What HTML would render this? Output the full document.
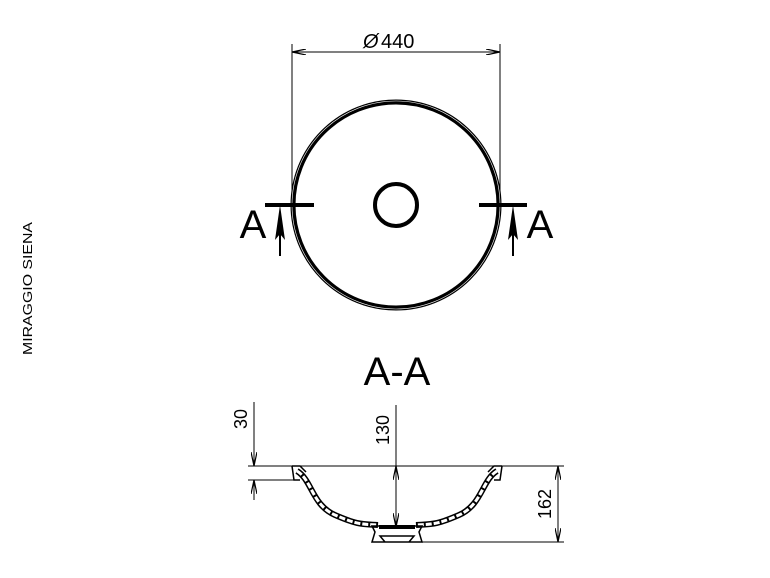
<!DOCTYPE html>
<html><head><style>body{margin:0;background:#fff}svg{display:block}</style></head><body>
<svg width="770" height="578" viewBox="0 0 770 578" xmlns="http://www.w3.org/2000/svg" font-family="Liberation Sans, sans-serif">
<defs>
<marker id="ar" viewBox="0 0 14 6" refX="14" refY="3" markerWidth="14" markerHeight="6" markerUnits="userSpaceOnUse" orient="auto"><path d="M0,0 L14,3 L0,6" fill="none" stroke="#000" stroke-width="1.2"/></marker>
</defs>
<text x="0" y="0" font-size="13" textLength="133" lengthAdjust="spacingAndGlyphs" transform="translate(32 355) rotate(-90)">MIRAGGIO SIENA</text>
<g stroke="#000" stroke-width="1" fill="none">
<line x1="292" y1="44" x2="292" y2="205"/>
<line x1="500" y1="44" x2="500" y2="205"/>
<line x1="396" y1="52" x2="292" y2="52" marker-end="url(#ar)"/>
<line x1="396" y1="52" x2="500" y2="52" marker-end="url(#ar)"/>
</g>
<text x="363" y="48" font-size="20" font-style="italic">Ø</text>
<text x="381" y="48" font-size="20">440</text>
<circle cx="396" cy="205" r="103" fill="none" stroke="#000" stroke-width="5"/>
<circle cx="396" cy="205" r="104" fill="none" stroke="#fff" stroke-width="0.6"/>
<circle cx="396" cy="205" r="21" fill="none" stroke="#000" stroke-width="4"/>
<line x1="265" y1="205" x2="314" y2="205" stroke="#000" stroke-width="4"/>
<line x1="479" y1="205" x2="527" y2="205" stroke="#000" stroke-width="4"/>
<line x1="280" y1="256" x2="280" y2="225" stroke="#000" stroke-width="2"/>
<path d="M280,205 L285,240 L280,234 L275,240 Z" fill="#000"/>
<line x1="513" y1="256" x2="513" y2="225" stroke="#000" stroke-width="2"/>
<path d="M513,205 L518,240 L513,234 L508,240 Z" fill="#000"/>
<text x="253" y="238" font-size="40" text-anchor="middle">A</text>
<text x="540" y="238" font-size="40" text-anchor="middle">A</text>
<text x="397" y="385" font-size="40" text-anchor="middle">A-A</text>
<g stroke="#000" stroke-width="1" fill="none">
<line x1="248" y1="466" x2="564" y2="466"/>
<line x1="248" y1="480" x2="298" y2="480"/>
<line x1="372" y1="542" x2="564" y2="542"/>
<line x1="254" y1="402" x2="254" y2="466" marker-end="url(#ar)"/>
<line x1="254" y1="500" x2="254" y2="480" marker-end="url(#ar)"/>
<line x1="396" y1="405" x2="396" y2="466"/>
<line x1="396" y1="496" x2="396" y2="466" marker-end="url(#ar)"/>
<line x1="396" y1="496" x2="396" y2="527" marker-end="url(#ar)"/>
<line x1="558" y1="504" x2="558" y2="466" marker-end="url(#ar)"/>
<line x1="558" y1="504" x2="558" y2="542" marker-end="url(#ar)"/>
</g>
<g fill="none">
<path d="M297,471 C312,480 312,505 335,515 S362,524 378,525" stroke="#000" stroke-width="6"/>
<path d="M297,471 C312,480 312,505 335,515 S362,524 378,525" stroke="#fff" stroke-width="3" stroke-dasharray="6,2"/>
<path d="M497,471 C482,480 482,505 459,515 S432,524 416,525" stroke="#000" stroke-width="6"/>
<path d="M497,471 C482,480 482,505 459,515 S432,524 416,525" stroke="#fff" stroke-width="3" stroke-dasharray="6,2"/>
<g stroke="#000" stroke-width="1.5">
<path d="M292,466 L294,480 L300,480 M292,466 L300,466 L306,472"/>
<path d="M502,466 L500,480 L494,480 M502,466 L494,466 L488,472"/>
<path d="M372,526 L422,526 L419,532 L422,542 L372,542 L375,532 Z M380,536 L414,536 L409,542 L385,542 Z"/>
</g>
</g>
<rect x="379" y="525" width="36" height="4" fill="#000"/>
<text x="0" y="0" font-size="18" text-anchor="middle" transform="translate(247 419) rotate(-90)">30</text>
<text x="0" y="0" font-size="18" text-anchor="middle" transform="translate(389 430) rotate(-90)">130</text>
<text x="0" y="0" font-size="18" text-anchor="middle" transform="translate(551 504) rotate(-90)">162</text>
</svg>
</body></html>
